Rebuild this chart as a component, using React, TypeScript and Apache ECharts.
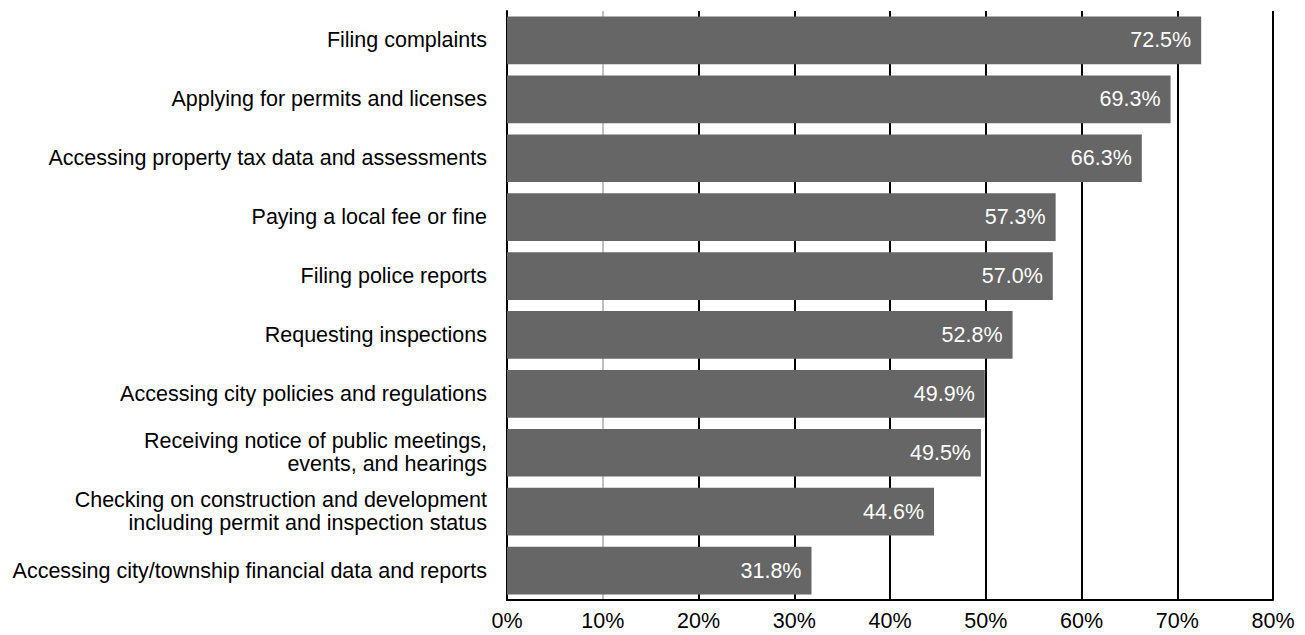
import React, { useEffect, useRef } from "react";
import * as echarts from "echarts";

const categories: string[] = [
  "Filing complaints",
  "Applying for permits and licenses",
  "Accessing property tax data and assessments",
  "Paying a local fee or fine",
  "Filing police reports",
  "Requesting inspections",
  "Accessing city policies and regulations",
  "Receiving notice of public meetings,\nevents, and hearings",
  "Checking on construction and development\nincluding permit and inspection status",
  "Accessing city/township financial data and reports",
];

const values: number[] = [72.5, 69.3, 66.3, 57.3, 57.0, 52.8, 49.9, 49.5, 44.6, 31.8];

const gridLineColors: string[] = ["#000000", "#c0c0c0", "#000000", "#000000", "#000000", "#000000", "#000000", "#000000", "#000000"];

const FONT = '"Liberation Sans", Arial, Helvetica, sans-serif';
const FS = 21.5;

export default function App() {
  const ref = useRef<HTMLDivElement>(null);
  useEffect(() => {
    if (!ref.current) return;
    const chart = echarts.init(ref.current, undefined, { renderer: "svg" });
    chart.setOption({
      animation: false,
      backgroundColor: "#ffffff",
      textStyle: { fontFamily: FONT },
      grid: { left: 507, right: 32, top: 11, bottom: 35, containLabel: false, outerBoundsMode: "none" },
      xAxis: {
        type: "value",
        min: 0,
        max: 80,
        interval: 10,
        axisLine: { show: true, lineStyle: { color: "#000", width: 2 } },
        axisTick: { show: false },
        axisLabel: {
          formatter: (v: number) => `${v}%`,
          color: "#000",
          fontSize: FS,
          fontFamily: FONT,
          margin: 10,
        },
        splitLine: { show: true, lineStyle: { color: gridLineColors, width: 2 } },
      },
      yAxis: {
        type: "category",
        inverse: true,
        data: categories,
        axisLine: { show: true, lineStyle: { color: "#000", width: 2 } },
        axisTick: { show: false },
        axisLabel: {
          color: "#000",
          fontSize: FS,
          fontFamily: FONT,
          lineHeight: 23,
          margin: 20,
          align: "right",
          padding: [4, 0, 0, 0],
        },
        splitLine: { show: false },
      },
      series: [
        {
          type: "bar",
          data: values,
          barCategoryGap: "19%",
          itemStyle: { color: "#666666" },
          label: {
            show: true,
            position: "insideRight",
            distance: 10,
            color: "#ffffff",
            fontSize: FS,
            fontFamily: FONT,
            padding: [3, 0, 0, 0],
            formatter: (p: any) => `${Number(p.value).toFixed(1)}%`,
          },
        },
      ],
    });
    return () => chart.dispose();
  }, []);
  return <div ref={ref} style={{ position: "fixed", left: 0, top: 0, width: 1305, height: 635 }} />;
}
